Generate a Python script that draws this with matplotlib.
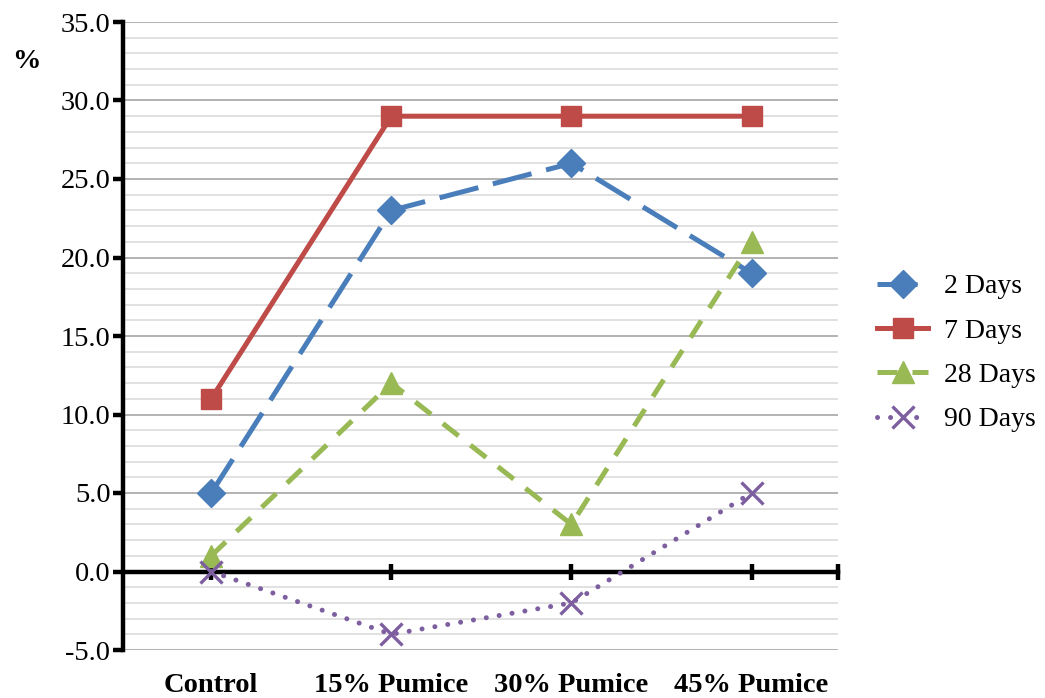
import numpy as np
import matplotlib
matplotlib.use('Agg')
import matplotlib.pyplot as plt
import matplotlib.transforms as mtransforms

plt.rcParams['font.family'] = ['Liberation Serif', 'DejaVu Serif']

# Data
categories = ['Control', '15% Pumice', '30% Pumice', '45% Pumice']
days_2 = [5.0, 23.0, 26.0, 19.0]
days_7 = [11.0, 29.0, 29.0, 29.0]
days_28 = [1.0, 12.0, 3.0, 21.0]
days_90 = [0.0, -4.0, -2.0, 5.0]
series_labels = ['2 Days', '7 Days', '28 Days', '90 Days']

blue = '#4A7EBB'
red = '#BE4B48'
green = '#98B954'
purple = '#7D5FA0'
fs = 20.5

fig = plt.figure(figsize=(10.45, 6.98), dpi=100)
ax = fig.add_axes([123 / 1045, 48 / 698, (838 - 123) / 1045, (650 - 22) / 698])

x = np.arange(len(categories))

# Gridlines: light every 1, darker every 5
for yv in np.arange(-5, 36, 1):
    if yv == 0:
        continue
    col = '#A6A6A6' if yv % 5 == 0 else '#DCDCDC'
    ax.axhline(yv, color=col, lw=1.2, zorder=0)

lw = 3.6
l1, = ax.plot(x, days_2, color=blue, lw=lw, marker='D', ms=14,
              mfc=blue, mec=blue, dashes=(8, 3), zorder=3)
l2, = ax.plot(x, days_7, color=red, lw=lw, marker='s', ms=15,
              mfc=red, mec=red, zorder=3)
l3, = ax.plot(x, days_28, color=green, lw=lw, marker='^', ms=16,
              mfc=green, mec=green, dashes=(4, 3), zorder=3)
l4, = ax.plot(x, days_90, color=purple, lw=lw, marker='x', ms=16,
              mew=2.4, dashes=(0.01, 2.6), dash_capstyle='round', zorder=3)

ax.set_xlim(-0.49, 3.48)
ax.set_ylim(-5, 35)

# Axis styling
for s in ['top', 'right']:
    ax.spines[s].set_visible(False)
ax.spines['left'].set_linewidth(3.2)
ax.spines['bottom'].set_linewidth(3.2)
ax.spines['bottom'].set_position(('data', 0))
ax.spines['bottom'].set_zorder(2)

ax.set_yticks(np.arange(-5, 36, 5))
ax.set_yticklabels(['%.1f' % v for v in np.arange(-5, 36, 5)], fontsize=fs)
ax.tick_params(axis='y', direction='out', length=7, width=3.2, pad=2)

ax.set_xticks([0, 1, 2, 3, 3.48])
ax.set_xticklabels([])
ax.tick_params(axis='x', direction='inout', length=12, width=3.2)

# Category labels at the bottom
trans = mtransforms.blended_transform_factory(ax.transData, ax.transAxes)
for xi, lab in zip(x, categories):
    ax.text(xi, -0.036, lab, transform=trans, ha='center', va='top',
            fontsize=fs, fontweight='bold')

fig.text(12 / 1045, 1 - 62 / 698, '%', fontsize=fs, fontweight='bold',
         ha='left', va='center')

fig.legend([l1, l2, l3, l4], series_labels, loc='center left',
           bbox_to_anchor=(877 / 1045, 0.494), frameon=False, fontsize=20,
           handlelength=1.85, labelspacing=0.68, borderpad=0,
           borderaxespad=0, handletextpad=0.55)

fig.savefig('out.png', dpi=100)
